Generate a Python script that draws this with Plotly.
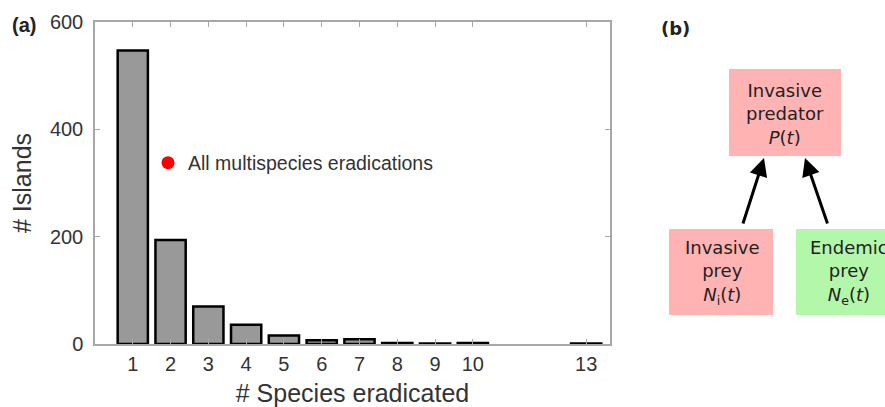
import plotly.graph_objects as go

# ---- data (panel a) ----
species_eradicated = [1, 2, 3, 4, 5, 6, 7, 8, 9, 10, 13]
n_islands = [547, 194, 70, 36, 16, 7, 9, 2, 1, 2, 1]
x_tick_vals = [1, 2, 3, 4, 5, 6, 7, 8, 9, 10, 13]
x_tick_text = ["1", "2", "3", "4", "5", "6", "7", "8", "9", "10", "13"]
y_tick_vals = [0, 200, 400, 600]
legend_label = "All multispecies eradications"

# ---- diagram text (panel b) ----
box_top_text = "Invasive<br>predator<br><i>P</i>(<i>t</i>)"
box_left_text = "Invasive<br>prey<br><i>N</i><sub>i</sub>(<i>t</i>)"
box_right_text = "Endemic<br>prey<br><i>N</i><sub>e</sub>(<i>t</i>)"

W, H = 885, 407
ML, MT, MB = 95, 22, 63
plot_right = 610
PW = W - ML            # width of paper area
PH = H - MT - MB       # height of paper area
dom_split = (plot_right - ML) / PW

AX_COLOR = "#a8a8a8"
TXT = "#333333"
SANS = "Liberation Sans, Arial, Helvetica, sans-serif"
DV = "DejaVu Sans, sans-serif"
PINK = "#ffb3b3"
GREEN = "#b3f7ab"

fig = go.Figure()
fig.add_trace(go.Bar(
    x=species_eradicated, y=n_islands, width=0.8,
    marker=dict(color="#999999", line=dict(color="black", width=2.5)),
    showlegend=False, xaxis="x", yaxis="y",
))
fig.add_trace(go.Scatter(
    x=[None], y=[None], mode="markers", name=legend_label,
    marker=dict(color="#ff0000", size=13), showlegend=True,
    xaxis="x", yaxis="y",
))

# hidden axes for diagram panel (pixel-like coordinates)
fig.add_trace(go.Scatter(x=[None], y=[None], xaxis="x2", yaxis="y2", showlegend=False))

fig.update_layout(
    width=W, height=H,
    margin=dict(l=ML, r=0, t=MT, b=MB, pad=0, autoexpand=False),
    paper_bgcolor="white", plot_bgcolor="white",
    font=dict(family=SANS, color=TXT),
    xaxis=dict(
        domain=[0, dom_split], range=[0.0, 13.63], automargin=False,
        tickmode="array", tickvals=x_tick_vals, ticktext=x_tick_text,
        ticks="inside", ticklen=5, tickwidth=1, tickcolor=AX_COLOR,
        showline=True, linecolor=AX_COLOR, linewidth=1.5, mirror="allticks",
        showgrid=False, zeroline=False,
        tickfont=dict(size=20, color=TXT, family=SANS),
        ticklabelstandoff=1,
        title=dict(text="# Species eradicated", font=dict(size=25, color=TXT, family=SANS), standoff=13),
    ),
    yaxis=dict(
        domain=[0, 1], range=[0, 600], automargin=False,
        tickmode="array", tickvals=y_tick_vals,
        ticks="inside", ticklen=5, tickwidth=1, tickcolor=AX_COLOR,
        showline=True, linecolor=AX_COLOR, linewidth=1.5, mirror="allticks",
        showgrid=False, zeroline=False,
        tickfont=dict(size=20, color=TXT, family=SANS),
        ticklabelstandoff=6,
        title=dict(text="# Islands", font=dict(size=25, color=TXT, family=SANS), standoff=11),
    ),
    xaxis2=dict(domain=[dom_split, 1], range=[plot_right, W], visible=False, anchor="y2", automargin=False),
    yaxis2=dict(domain=[0, 1], range=[H - MB, MT], visible=False, anchor="x2", automargin=False),
    legend=dict(
        x=(148 - ML) / PW, y=(H - MB - 163) / PH,
        xanchor="left", yanchor="middle",
        bgcolor="rgba(0,0,0,0)", borderwidth=0,
        font=dict(size=19.5, color=TXT, family=SANS),
    ),
)

# boxes in panel b
boxes = [
    (729, 69, 841, 156, PINK),
    (669, 229, 773, 315, PINK),
    (796, 229, 900, 315, GREEN),
]
for x0, y0, x1, y1, col in boxes:
    fig.add_shape(type="rect", xref="x2", yref="y2", x0=x0, x1=x1, y0=y0, y1=y1,
                  fillcolor=col, line=dict(width=0), layer="below")

BOXFONT = dict(family=DV, size=18, color="#222222")
fig.add_annotation(xref="x2", yref="y2", x=785, y=114, text=box_top_text, showarrow=False,
                   font=BOXFONT, yanchor="middle")
fig.add_annotation(xref="x2", yref="y2", x=722, y=272, text=box_left_text, showarrow=False,
                   font=BOXFONT, yanchor="middle")
fig.add_annotation(xref="x2", yref="y2", x=849, y=272, text=box_right_text, showarrow=False,
                   font=BOXFONT, yanchor="middle")

# arrows
for (hx, hy, tx, ty) in [(764, 158, 742.5, 225), (805, 158, 828, 225)]:
    fig.add_annotation(xref="x2", yref="y2", axref="x2", ayref="y2",
                       x=hx, y=hy, ax=tx, ay=ty, text="", showarrow=True,
                       arrowhead=2, arrowsize=1.2, arrowwidth=3, arrowcolor="black",
                       standoff=0, startstandoff=0)

# panel labels
fig.add_annotation(xref="paper", yref="paper", x=(10 - ML) / PW, y=(H - MB - 25) / PH,
                   text="<b>(a)</b>", showarrow=False, xanchor="left", yanchor="middle",
                   font=dict(family=SANS, size=20, color="#222222"))
fig.add_annotation(xref="x2", yref="y2", x=659, y=28, text="<b>(b)</b>", showarrow=False,
                   xanchor="left", yanchor="middle",
                   font=dict(family=DV, size=18, color="#222222"))

fig.write_html("out.html", config={"displayModeBar": False},
               post_script="document.body.style.margin='0px';")
